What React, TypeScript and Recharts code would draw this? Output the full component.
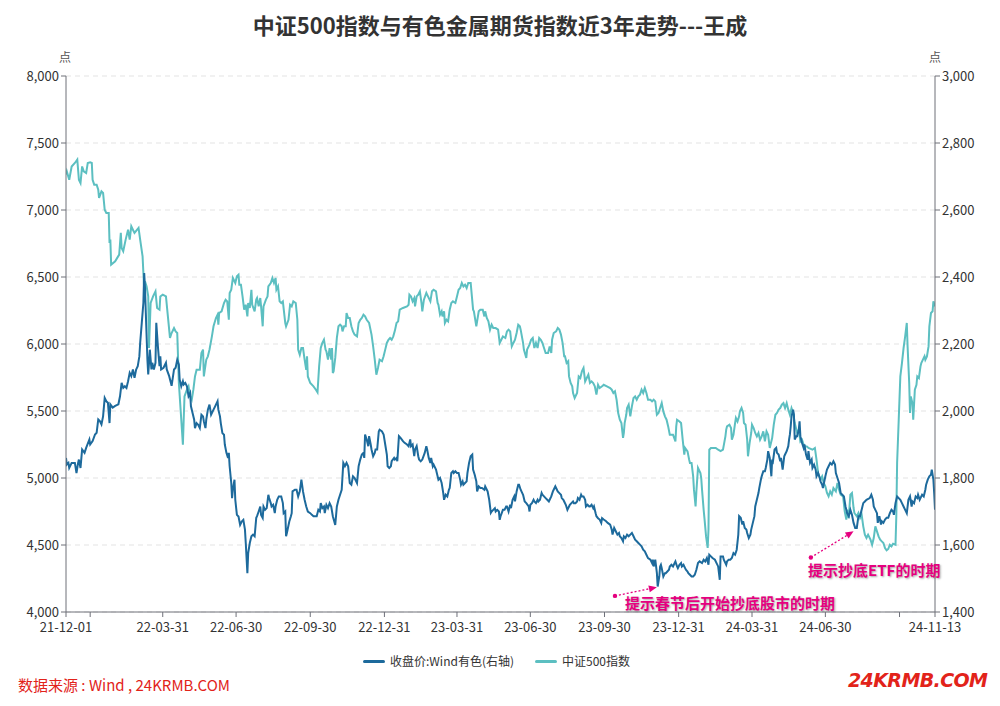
import React from 'react';
import { LineChart, Line, XAxis, YAxis, CartesianGrid, ReferenceLine } from 'recharts';

const FONT = '"Noto Sans CJK SC", "Noto Sans", sans-serif';
const TEAL = '#5cbfc1';
const BLUE = '#1d6a9c';
const PINK = '#e5007f';
const RED = '#e2231a';

const title = '中证500指数与有色金属期货指数近3年走势---王成';
const seriesNames = ['收盘价:Wind有色(右轴)', '中证500指数'];

// x values are days since 2021-12-01
const tickDays = [0, 30, 120, 211, 303, 395, 485, 576, 668, 760, 851, 942, 1034, 1078];
const tickLabels = ['21-12-01', '', '22-03-31', '22-06-30', '22-09-30', '22-12-31', '23-03-31', '23-06-30', '23-09-30', '23-12-31', '24-03-31', '24-06-30', '', '24-11-13'];
const leftTicks = [4000, 4500, 5000, 5500, 6000, 6500, 7000, 7500, 8000];
const rightTicks = [1400, 1600, 1800, 2000, 2200, 2400, 2600, 2800, 3000];

// 中证500指数 (left axis)
const csiDays = [
  0, 1, 4, 7, 11, 14, 16, 18, 20, 22, 25, 27,
  30, 32, 33, 35, 38, 40, 41, 44, 46, 48, 50, 53,
  54, 55, 56, 61, 66, 68, 69, 71, 74, 77, 79, 81,
  83, 85, 90, 92, 95, 97, 98, 100, 102, 103, 105, 108,
  111, 113, 116, 117, 120, 124, 126, 129, 131, 134, 136, 138,
  140, 143, 145, 146, 147, 150, 152, 154, 156, 158, 160, 162,
  166, 168, 170, 171, 174, 176, 178, 181, 183, 186, 188, 189,
  190, 193, 196, 198, 200, 202, 203, 205, 207, 210, 212, 214,
  215, 217, 219, 221, 223, 225, 226, 228, 230, 231, 234, 236,
  237, 239, 241, 242, 244, 245, 248, 250, 251, 254, 256, 258,
  260, 261, 263, 265, 267, 269, 272, 273, 276, 278, 280, 282,
  285, 287, 288, 290, 292, 294, 296, 298, 299, 300, 303, 307,
  310, 312, 314, 316, 318, 320, 322, 323, 325, 327, 329, 330,
  331, 332, 334, 336, 338, 340, 342, 343, 345, 347, 348, 350,
  352, 354, 356, 358, 361, 363, 365, 367, 369, 371, 373, 376,
  379, 381, 383, 385, 387, 389, 392, 394, 396, 398, 400, 402,
  404, 406, 408, 410, 412, 414, 418, 423, 425, 426, 428, 430,
  432, 433, 435, 437, 439, 441, 442, 444, 447, 448, 451, 452,
  454, 456, 459, 461, 462, 464, 466, 467, 469, 470, 472, 474,
  476, 478, 480, 483, 485, 487, 489, 491, 493, 495, 497, 499,
  502, 505, 506, 509, 510, 512, 514, 517, 519, 520, 522, 524,
  526, 528, 530, 533, 536, 538, 540, 542, 545, 547, 549, 551,
  553, 555, 557, 559, 561, 563, 564, 567, 568, 571, 572, 575,
  577, 579, 581, 583, 585, 587, 589, 591, 593, 595, 598, 600,
  602, 603, 605, 608, 610, 612, 614, 616, 618, 619, 621, 623,
  624, 626, 628, 629, 631, 634, 636, 638, 640, 642, 644, 646,
  648, 650, 652, 654, 656, 658, 660, 662, 665, 667, 671, 675,
  677, 679, 681, 683, 685, 687, 689, 691, 692, 693, 695, 696,
  698, 700, 702, 704, 706, 708, 710, 712, 714, 716, 718, 720,
  722, 725, 727, 729, 731, 733, 735, 737, 739, 741, 743, 745,
  747, 749, 751, 753, 756, 757, 758, 761, 763, 765, 767, 768,
  771, 773, 774, 776, 778, 779, 781, 782, 784, 787, 788, 789,
  791, 792, 794, 796, 797, 798, 800, 803, 806, 809, 812, 815,
  818, 819, 820, 823, 825, 826, 828, 830, 831, 833, 835, 836,
  838, 840, 841, 843, 845, 846, 848, 850, 851, 853, 855, 857,
  859, 861, 863, 865, 867, 869, 871, 873, 876, 878, 880, 882,
  884, 886, 888, 890, 892, 894, 896, 898, 900, 902, 904, 907,
  909, 911, 913, 915, 917, 919, 921, 926, 929, 931, 933, 936,
  938, 940, 942, 944, 946, 948, 950, 952, 955, 957, 959, 961,
  964, 966, 968, 969, 971, 973, 975, 977, 978, 981, 983, 985,
  987, 989, 991, 993, 995, 998, 1000, 1002, 1004, 1006, 1008, 1010,
  1012, 1014, 1016, 1018, 1020, 1022, 1024, 1026, 1029, 1030, 1031, 1033,
  1035, 1037, 1039, 1041, 1043, 1044, 1046, 1047, 1048, 1050, 1051, 1053,
  1055, 1056, 1058, 1060, 1061, 1063, 1065, 1066, 1068, 1070, 1071, 1073,
  1075, 1076, 1078,
];
const csiValues = [
  7264, 7288, 7226, 7325, 7351, 7376, 7226, 7201, 7325, 7288, 7276, 7351,
  7356, 7351, 7226, 7189, 7189, 7152, 7090, 7139, 7127, 7002, 6978, 6978,
  6754, 6779, 6592, 6617, 6667, 6829, 6717, 6692, 6779, 6853, 6779, 6878,
  6853, 6829, 6866, 6779, 6654, 6405, 6467, 6430, 6355, 5970, 6306, 6355,
  6393, 6269, 6256, 6355, 6368, 6355, 6231, 6045, 6082, 6119, 6094, 6082,
  5709, 5435, 5249, 5435, 5609, 5659, 5684, 5609, 5584, 5659, 5758, 5808,
  5808, 5933, 5958, 5758, 5883, 5908, 5958, 6057, 6132, 6194, 6219, 6144,
  6231, 6244, 6306, 6331, 6318, 6181, 6381, 6405, 6493, 6455, 6505, 6517,
  6443, 6443, 6355, 6256, 6293, 6206, 6306, 6269, 6405, 6293, 6244, 6331,
  6343, 6281, 6343, 6281, 6132, 6281, 6331, 6355, 6430, 6455, 6493, 6455,
  6493, 6405, 6430, 6318, 6306, 6318, 6157, 6132, 6181, 6293, 6281, 6318,
  6306, 6181, 5958, 5920, 5970, 5970, 5883, 5808, 5908, 5758, 5709, 5684,
  5659, 5640, 5833, 5970, 6008, 6032, 5958, 5945, 5883, 5970, 5883, 5970,
  5783, 5796, 5896, 6045, 6132, 6144, 6132, 6094, 6132, 6132, 6231, 6194,
  6194, 6132, 6094, 6070, 6057, 6157, 6181, 6194, 6219, 6206, 6181, 6157,
  6070, 5982, 5883, 5771, 5821, 5883, 5871, 5908, 5958, 6008, 6032, 6045,
  6032, 6057, 6100, 6157, 6169, 6256, 6269, 6281, 6293, 6368, 6355, 6318,
  6343, 6281, 6355, 6368, 6393, 6306, 6244, 6331, 6381, 6368, 6331, 6318,
  6393, 6405, 6393, 6306, 6293, 6219, 6244, 6206, 6244, 6157, 6181, 6169,
  6256, 6306, 6318, 6306, 6355, 6405, 6418, 6455, 6430, 6443, 6418, 6455,
  6455, 6256, 6244, 6132, 6169, 6244, 6256, 6256, 6206, 6244, 6194, 6169,
  6107, 6144, 6119, 6119, 6107, 6008, 6032, 6057, 6045, 6094, 6107, 6094,
  5982, 6008, 6032, 6082, 6144, 6132, 6107, 6008, 5958, 5896, 5958, 5995,
  6032, 6045, 5970, 6008, 5970, 6045, 6032, 6008, 5970, 5933, 5933, 5982,
  5933, 6032, 6082, 6094, 6119, 6107, 6070, 6008, 5908, 5908, 5858, 5871,
  5758, 5709, 5684, 5634, 5597, 5634, 5758, 5746, 5796, 5821, 5721, 5746,
  5771, 5709, 5721, 5709, 5684, 5622, 5696, 5671, 5684, 5696, 5684, 5671,
  5659, 5634, 5647, 5584, 5485, 5435, 5410, 5299, 5336, 5410, 5472, 5522,
  5547, 5460, 5535, 5597, 5609, 5584, 5609, 5622, 5659, 5634, 5672, 5634,
  5584, 5584, 5572, 5584, 5572, 5472, 5485, 5522, 5559, 5497, 5460, 5435,
  5385, 5323, 5323, 5323, 5273, 5385, 5435, 5422, 5410, 5286, 5174, 5224,
  5199, 5137, 5112, 5112, 5012, 4913, 4788, 4900, 5075, 5037, 5000, 4913,
  4763, 4701, 4564, 4478, 4614, 5211, 5224, 5224, 5224, 5211, 5200, 5211,
  5311, 5361, 5385, 5398, 5373, 5286, 5323, 5410, 5448, 5422, 5460, 5497,
  5522, 5485, 5410, 5398, 5286, 5162, 5261, 5336, 5398, 5373, 5336, 5311,
  5336, 5286, 5311, 5348, 5273, 5348, 5323, 5224, 5298, 5398, 5472, 5485,
  5510, 5522, 5547, 5559, 5522, 5559, 5510, 5472, 5522, 5485, 5410, 5336,
  5361, 5273, 5286, 5249, 5236, 5236, 5224, 5211, 5224, 5137, 5037, 4987,
  5012, 4963, 4938, 4888, 4863, 4900, 4876, 4925, 4900, 4963, 4913, 4876,
  4863, 4751, 4689, 4763, 4701, 4875, 4888, 4776, 4739, 4714, 4739, 4701,
  4726, 4639, 4577, 4552, 4577, 4540, 4502, 4552, 4639, 4602, 4564, 4540,
  4527, 4515, 4478, 4460, 4470, 4502, 4490, 4510, 4502, 4713, 5112, 5435,
  5758, 5858, 5970, 6057, 6157, 5982, 5709, 5485, 5609, 5559, 5435, 5659,
  5696, 5758, 5746, 5833, 5858, 5883, 5908, 5883, 5908, 5982, 6132, 6231,
  6244, 6318, 6281,
];

// 收盘价:Wind有色 (right axis)
const metalDays = [
  0, 1, 3, 4, 7, 11, 13, 15, 16, 18, 20, 23,
  25, 29, 30, 33, 36, 38, 40, 42, 44, 46, 48, 50,
  52, 54, 55, 58, 61, 65, 67, 69, 71, 73, 75, 77,
  79, 81, 83, 85, 87, 89, 91, 92, 94, 96, 97, 98,
  99, 101, 102, 103, 104, 106, 107, 109, 111, 112, 114, 116,
  117, 118, 121, 124, 125, 128, 130, 131, 134, 136, 138, 140,
  141, 143, 145, 146, 148, 150, 152, 154, 155, 157, 159, 160,
  162, 164, 166, 168, 170, 171, 173, 174, 176, 178, 180, 182,
  183, 185, 188, 189, 191, 192, 194, 196, 197, 199, 201, 202,
  203, 205, 206, 207, 209, 210, 212, 214, 216, 218, 220, 222,
  223, 225, 226, 228, 230, 232, 234, 236, 237, 239, 241, 242,
  244, 245, 247, 249, 251, 252, 254, 255, 257, 259, 260, 262,
  264, 265, 267, 269, 270, 272, 273, 274, 277, 279, 280, 281,
  284, 286, 288, 290, 292, 294, 296, 298, 300, 303, 305, 307,
  311, 313, 315, 316, 318, 320, 321, 323, 325, 327, 329, 331,
  334, 336, 338, 340, 342, 344, 346, 348, 350, 352, 354, 356,
  358, 361, 363, 365, 367, 369, 370, 371, 373, 375, 376, 378,
  379, 381, 383, 384, 386, 388, 389, 392, 394, 396, 398, 399,
  401, 403, 404, 407, 408, 410, 411, 413, 415, 418, 420, 423,
  425, 427, 428, 430, 432, 433, 435, 437, 438, 440, 442, 445,
  447, 448, 450, 452, 453, 455, 456, 459, 460, 462, 464, 466,
  468, 469, 471, 473, 475, 476, 478, 480, 481, 483, 485, 487,
  489, 490, 492, 493, 495, 497, 498, 500, 502, 504, 505, 507,
  509, 510, 512, 514, 516, 519, 520, 522, 523, 525, 527, 528,
  530, 532, 533, 535, 537, 538, 539, 542, 544, 546, 547, 549,
  551, 552, 554, 556, 557, 559, 561, 562, 564, 566, 567, 569,
  571, 574, 575, 576, 578, 580, 581, 583, 585, 586, 588, 590,
  591, 593, 595, 597, 599, 600, 602, 604, 605, 607, 609, 610,
  612, 614, 615, 617, 618, 620, 622, 624, 625, 627, 629, 630,
  632, 634, 635, 637, 639, 640, 642, 644, 645, 647, 649, 650,
  652, 654, 655, 657, 658, 660, 662, 664, 665, 667, 670, 672,
  675, 677, 678, 680, 682, 684, 686, 687, 689, 691, 692, 694,
  696, 698, 700, 702, 704, 706, 708, 710, 712, 714, 716, 718,
  720, 722, 725, 727, 728, 729, 731, 733, 734, 736, 737, 738,
  739, 741, 743, 744, 746, 748, 749, 751, 753, 754, 756, 758,
  759, 761, 763, 764, 766, 768, 769, 771, 772, 774, 776, 778,
  780, 782, 784, 786, 789, 791, 793, 795, 797, 798, 800, 802,
  805, 807, 809, 811, 812, 815, 816, 819, 820, 822, 824, 826,
  828, 830, 832, 834, 835, 837, 839, 840, 842, 844, 845, 847,
  849, 850, 852, 854, 855, 857, 859, 860, 862, 863, 865, 867,
  868, 870, 871, 873, 875, 876, 877, 879, 881, 882, 884, 886,
  887, 889, 891, 892, 894, 896, 897, 898, 899, 900, 902, 903,
  904, 906, 907, 909, 910, 911, 913, 915, 916, 918, 920, 921,
  923, 925, 926, 928, 930, 931, 933, 935, 936, 938, 939, 942,
  944, 946, 948, 950, 952, 954, 955, 957, 959, 961, 963, 965,
  967, 969, 971, 973, 975, 977, 979, 981, 983, 985, 987, 989,
  991, 993, 997, 999, 1001, 1002, 1004, 1006, 1007, 1009, 1011, 1012,
  1014, 1016, 1018, 1020, 1022, 1024, 1026, 1027, 1029, 1031, 1033, 1035,
  1037, 1039, 1041, 1043, 1045, 1047, 1049, 1050, 1052, 1054, 1056, 1057,
  1059, 1061, 1062, 1064, 1066, 1067, 1069, 1071, 1073, 1074, 1076, 1077,
  1078,
];
const metalValues = [
  1860, 1840, 1845, 1830, 1845, 1845, 1815, 1845, 1855, 1830, 1885, 1875,
  1890, 1915, 1900, 1910, 1930, 1935, 1975, 1970, 1960, 1984, 2039, 2029,
  2025, 1964, 2020, 2010, 2015, 2020, 2044, 2084, 2069, 2074, 2069, 2089,
  2114, 2104, 2124, 2099, 2124, 2134, 2163, 2203, 2263, 2323, 2412, 2368,
  2293, 2153, 2109, 2144, 2183, 2124, 2144, 2124, 2144, 2263, 2193, 2134,
  2163, 2124, 2129, 2144, 2124, 2104, 2085, 2075, 2124, 2129, 2153, 2139,
  2094, 2074, 2089, 2079, 2084, 2074, 2044, 2054, 2014, 1994, 1974, 1949,
  1964, 1959, 1949, 1989, 1984, 1969, 1949, 1974, 2004, 2019, 1989, 1999,
  2004, 2014, 2029, 2004, 1984, 1964, 1934, 1929, 1900, 1875, 1860, 1875,
  1835, 1785, 1740, 1765, 1795, 1735, 1690, 1685, 1660, 1670, 1675, 1646,
  1606, 1516, 1576, 1606, 1626, 1631, 1626, 1681, 1686, 1700, 1715, 1690,
  1681, 1715, 1705, 1710, 1750, 1740, 1725, 1715, 1720, 1695, 1715, 1735,
  1745, 1745, 1745, 1725, 1695, 1700, 1626, 1636, 1670, 1686, 1695, 1760,
  1765, 1765, 1745, 1760, 1795, 1760, 1735, 1715, 1700, 1695, 1690, 1686,
  1686, 1705, 1700, 1725, 1710, 1715, 1695, 1720, 1710, 1725, 1715, 1686,
  1660, 1715, 1735, 1750, 1765, 1845, 1835, 1845, 1835, 1785, 1780, 1805,
  1800, 1785, 1835, 1855, 1870, 1875, 1860, 1930, 1915, 1895, 1925, 1900,
  1885, 1865, 1875, 1885, 1885, 1939, 1944, 1939, 1930, 1900, 1870, 1835,
  1830, 1835, 1850, 1860, 1855, 1860, 1850, 1925, 1920, 1910, 1905, 1900,
  1895, 1915, 1895, 1900, 1865, 1885, 1895, 1865, 1855, 1850, 1855, 1875,
  1895, 1885, 1860, 1845, 1860, 1835, 1840, 1825, 1815, 1795, 1800, 1785,
  1755, 1735, 1750, 1745, 1765, 1770, 1815, 1820, 1815, 1820, 1815, 1815,
  1795, 1780, 1790, 1780, 1785, 1790, 1815, 1845, 1865, 1870, 1825, 1810,
  1790, 1760, 1775, 1770, 1770, 1765, 1775, 1765, 1760, 1735, 1696, 1700,
  1705, 1710, 1700, 1705, 1700, 1675, 1685, 1705, 1705, 1715, 1715, 1700,
  1720, 1710, 1735, 1745, 1730, 1760, 1780, 1780, 1765, 1755, 1750, 1730,
  1725, 1715, 1700, 1720, 1725, 1735, 1730, 1725, 1735, 1730, 1735, 1755,
  1750, 1745, 1740, 1735, 1730, 1735, 1745, 1760, 1765, 1775, 1765, 1760,
  1755, 1750, 1740, 1735, 1730, 1720, 1705, 1715, 1720, 1725, 1730, 1725,
  1725, 1730, 1740, 1735, 1750, 1745, 1745, 1735, 1715, 1720, 1715, 1715,
  1720, 1710, 1715, 1695, 1686, 1680, 1676, 1666, 1680, 1676, 1671, 1666,
  1661, 1646, 1631, 1651, 1641, 1631, 1636, 1626, 1621, 1611, 1626, 1621,
  1631, 1626, 1631, 1636, 1626, 1616, 1611, 1606, 1601, 1596, 1586, 1581,
  1571, 1561, 1556, 1546, 1556, 1536, 1556, 1516, 1476, 1506, 1536, 1541,
  1531, 1506, 1516, 1516, 1521, 1526, 1536, 1541, 1536, 1541, 1551, 1536,
  1531, 1541, 1546, 1536, 1541, 1531, 1526, 1521, 1516, 1511, 1506, 1506,
  1511, 1526, 1546, 1551, 1546, 1556, 1551, 1561, 1541, 1571, 1566, 1561,
  1556, 1546, 1536, 1496, 1566, 1566, 1556, 1541, 1551, 1556, 1556, 1561,
  1576, 1571, 1586, 1631, 1686, 1681, 1661, 1671, 1651, 1646, 1636, 1621,
  1631, 1646, 1666, 1686, 1715, 1735, 1755, 1770, 1795, 1805, 1820, 1820,
  1830, 1855, 1880, 1860, 1805, 1855, 1850, 1885, 1890, 1875, 1870, 1850,
  1860, 1825, 1865, 1870, 1880, 1895, 1915, 1930, 1954, 1984, 2004, 1989,
  1915, 1925, 1925, 1944, 1969, 1925, 1905, 1890, 1900, 1870, 1855, 1880,
  1845, 1855, 1830, 1840, 1825, 1805, 1815, 1800, 1790, 1780, 1770, 1805,
  1825, 1835, 1845, 1840, 1850, 1840, 1815, 1800, 1785, 1755, 1750, 1745,
  1715, 1695, 1686, 1705, 1690, 1666, 1651, 1651, 1686, 1686, 1705, 1725,
  1730, 1735, 1740, 1750, 1735, 1715, 1705, 1695, 1666, 1686, 1661, 1671,
  1666, 1676, 1681, 1681, 1695, 1705, 1700, 1690, 1725, 1745, 1740, 1735,
  1725, 1715, 1705, 1695, 1735, 1745, 1715, 1730, 1725, 1745, 1740, 1750,
  1735, 1745, 1750, 1745, 1765, 1780, 1795, 1805, 1810, 1825, 1795, 1755,
  1705,
];

// annotation arrows: [startDay, startValue(left axis), endDay, endValue(left axis)]
const arrow1 = [681, 4120, 733, 4185];
const arrow2 = [924, 4407, 977, 4602];
const note1 = '提示春节后开始抄底股市的时期';
const note2 = '提示抄底ETF的时期';

const csiData = csiDays
  .map((d, i) => ({ d, v: csiValues[i] }))
  .filter((p) => p.v !== undefined);
const metalData = metalDays
  .map((d, i) => ({ d, v: metalValues[i] }))
  .filter((p) => p.v !== undefined);

const fmt = (v: number) => v.toLocaleString('en-US');

const XTick = (props: any) => {
  const { x, y, payload } = props;
  const idx = tickDays.indexOf(payload.value);
  const label = idx >= 0 ? tickLabels[idx] : '';
  if (!label) return <g />;
  return (
    <text x={x} y={y} dy={13} textAnchor="middle" fontSize={13} fill="#333" fontFamily={FONT}>
      {label}
    </text>
  );
};

const arrowShape = (p: any) => {
  const { x1, y1, x2, y2 } = p;
  if ([x1, y1, x2, y2].some((n) => typeof n !== 'number' || isNaN(n))) return <g />;
  const ang = Math.atan2(y2 - y1, x2 - x1);
  const L = 8;
  const W = 3.5;
  const bx = x2 - L * Math.cos(ang);
  const by = y2 - L * Math.sin(ang);
  const pts = `${x2},${y2} ${bx + W * Math.sin(ang)},${by - W * Math.cos(ang)} ${bx - W * Math.sin(ang)},${by + W * Math.cos(ang)}`;
  return (
    <g>
      <line x1={x1} y1={y1} x2={bx} y2={by} stroke={PINK} strokeWidth={1.3} strokeDasharray="2 2" />
      <circle cx={x1} cy={y1} r={2.2} fill={PINK} />
      <polygon points={pts} fill={PINK} />
    </g>
  );
};

const noteStyle: React.CSSProperties = {
  position: 'absolute',
  color: PINK,
  fontWeight: 'bold',
  fontSize: 15,
  fontFamily: FONT,
  whiteSpace: 'nowrap',
  lineHeight: '18px',
  textShadow: '1px 1px 2px rgba(0,0,0,0.35)',
};

const legendItem: React.CSSProperties = {
  position: 'absolute',
  top: 652,
  display: 'flex',
  alignItems: 'center',
  fontSize: 12,
  color: '#333',
  lineHeight: '18px',
  whiteSpace: 'nowrap',
};

export default function App() {
  return (
    <div
      style={{
        position: 'absolute',
        left: 0,
        top: 0,
        width: 1000,
        height: 706,
        background: '#fff',
        fontFamily: FONT,
        overflow: 'hidden',
      }}
    >
      <div
        style={{
          position: 'absolute',
          left: 0,
          top: 10,
          width: 1000,
          textAlign: 'center',
          fontSize: 22,
          fontWeight: 'bold',
          color: '#333',
          lineHeight: '28px',
        }}
      >
        {title}
      </div>
      <div style={{ position: 'absolute', left: 59, top: 48, fontSize: 12, color: '#555' }}>点</div>
      <div style={{ position: 'absolute', left: 929, top: 48, fontSize: 12, color: '#555' }}>点</div>

      <div style={{ position: 'absolute', left: 0, top: 0 }}>
        <LineChart width={1000} height={706} margin={{ top: 76, right: 0, bottom: 64, left: 0 }}>
          <CartesianGrid yAxisId="left" vertical={false} stroke="#e3e3e3" strokeDasharray="5 4" />
          <XAxis
            type="number"
            dataKey="d"
            domain={[0, 1078]}
            ticks={tickDays}
            interval={0}
            tick={<XTick />}
            tickSize={5}
            height={30}
            stroke="#6e7079"
            allowDataOverflow
          />
          <YAxis
            yAxisId="left"
            orientation="left"
            width={66}
            domain={[4000, 8000]}
            ticks={leftTicks}
            interval={0}
            tickFormatter={fmt}
            tickSize={5}
            stroke="#6e7079"
            tick={{ fill: '#333', fontSize: 13, fontFamily: FONT }}
            allowDataOverflow
          />
          <YAxis
            yAxisId="right"
            orientation="right"
            width={65}
            domain={[1400, 3000]}
            ticks={rightTicks}
            interval={0}
            tickFormatter={fmt}
            tickSize={5}
            stroke="#6e7079"
            tick={{ fill: '#333', fontSize: 13, fontFamily: FONT }}
            allowDataOverflow
          />
          <Line
            yAxisId="left"
            data={csiData}
            dataKey="v"
            name={seriesNames[1]}
            type="linear"
            stroke={TEAL}
            strokeWidth={2}
            dot={false}
            activeDot={false}
            isAnimationActive={false}
          />
          <Line
            yAxisId="right"
            data={metalData}
            dataKey="v"
            name={seriesNames[0]}
            type="linear"
            stroke={BLUE}
            strokeWidth={2}
            dot={false}
            activeDot={false}
            isAnimationActive={false}
          />
          <ReferenceLine
            yAxisId="left"
            segment={[
              { x: arrow1[0], y: arrow1[1] },
              { x: arrow1[2], y: arrow1[3] },
            ]}
            ifOverflow="visible"
            shape={arrowShape}
          />
          <ReferenceLine
            yAxisId="left"
            segment={[
              { x: arrow2[0], y: arrow2[1] },
              { x: arrow2[2], y: arrow2[3] },
            ]}
            ifOverflow="visible"
            shape={arrowShape}
          />
        </LineChart>
      </div>

      <div style={{ ...noteStyle, left: 625, top: 594 }}>{note1}</div>
      <div style={{ ...noteStyle, left: 808, top: 561 }}>{note2}</div>

      {/* legend */}
      <div style={{ ...legendItem, left: 363 }}>
        <span style={{ display: 'inline-block', width: 22, height: 3, background: BLUE, borderRadius: 1.5, marginRight: 5 }} />
        <span>{seriesNames[0]}</span>
      </div>
      <div style={{ ...legendItem, left: 535 }}>
        <span style={{ display: 'inline-block', width: 22, height: 3, background: TEAL, borderRadius: 1.5, marginRight: 5 }} />
        <span>{seriesNames[1]}</span>
      </div>

      <div
        style={{
          position: 'absolute',
          left: 18,
          top: 675,
          fontSize: 15,
          color: RED,
          whiteSpace: 'nowrap',
          lineHeight: '20px',
        }}
      >
        数据来源 : Wind , 24KRMB.COM
      </div>
      <div
        style={{
          position: 'absolute',
          left: 848,
          top: 668,
          fontSize: 19,
          fontWeight: 'bold',
          fontStyle: 'italic',
          fontFamily: '"DejaVu Sans", sans-serif',
          color: RED,
          whiteSpace: 'nowrap',
          lineHeight: '24px',
          letterSpacing: -0.6,
        }}
      >
        24KRMB.COM
      </div>
    </div>
  );
}
